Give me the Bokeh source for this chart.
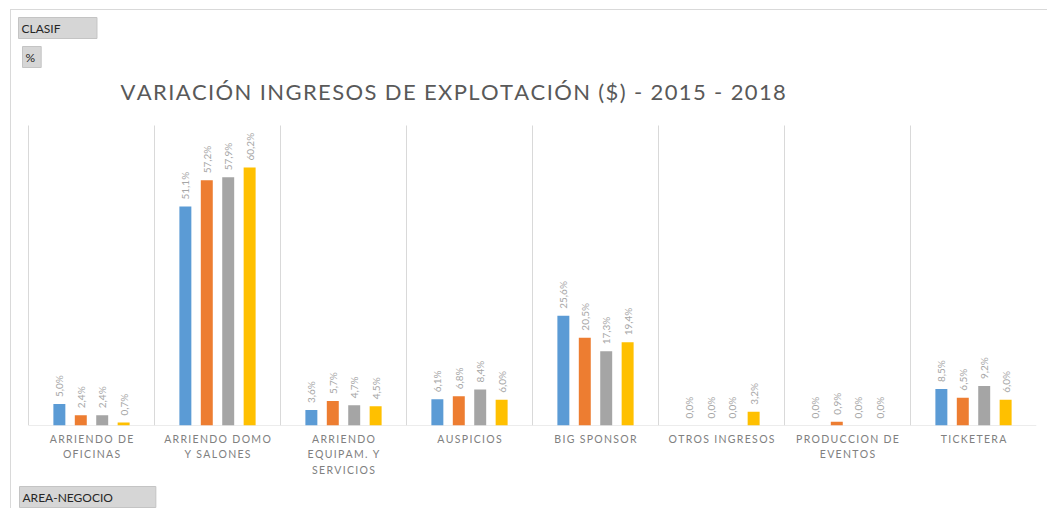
import math
from bokeh.plotting import figure
from bokeh.models import Label, Title, FixedTicker, ColumnDataSource, Range1d
from bokeh.core.properties import value
from bokeh.embed import file_html
from bokeh.resources import INLINE

# ---------------- data ----------------
categories = ["ARRIENDO DE\nOFICINAS", "ARRIENDO DOMO\nY SALONES", "ARRIENDO\nEQUIPAM. Y\nSERVICIOS",
              "AUSPICIOS", "BIG SPONSOR", "OTROS INGRESOS", "PRODUCCION DE\nEVENTOS", "TICKETERA"]
years = ["2015", "2016", "2017", "2018"]
v2015 = [5.0, 51.1, 3.6, 6.1, 25.6, 0.0, 0.0, 8.5]
v2016 = [2.4, 57.2, 5.7, 6.8, 20.5, 0.0, 0.9, 6.5]
v2017 = [2.4, 57.9, 4.7, 8.4, 17.3, 0.0, 0.0, 9.2]
v2018 = [0.7, 60.2, 4.5, 6.0, 19.4, 3.2, 0.0, 6.0]
series = [v2015, v2016, v2017, v2018]
colors = ["#5B9BD5", "#ED7D31", "#A5A5A5", "#FFC000"]
offsets = [-0.255, -0.085, 0.085, 0.255]
title_text = "VARIACIÓN INGRESOS DE EXPLOTACIÓN ($) - 2015 - 2018"
y_max = 70.0

FONT = "Lato"
n = len(categories)

# layout helpers (pixels)
CAT_PX = 126          # width of one category
LEFT_PAD = 17         # frame starts this far left of the first category
PLOT_H = 300          # height of the value area (0..y_max)
FRAME_H = 415         # frame height (includes the title band above)


def spaced(s, gap="\u200a"):
    lines = []
    for line in s.split("\n"):
        words = [gap.join(list(w)) for w in line.split(" ")]
        lines.append((gap + " " + gap).join(words))
    return "\n".join(lines)


p = figure(width=1037, height=503,
           x_range=Range1d(-0.5 - LEFT_PAD / CAT_PX, n - 0.5),
           y_range=Range1d(0, y_max * FRAME_H / PLOT_H),
           output_backend="svg", toolbar_location=None, y_axis_location=None,
           title_location=None,
           min_border_left=0, min_border_right=12, min_border_top=0, min_border_bottom=60)
p.styles = {"margin-left": "10px", "margin-top": "9px",
            "border-top": "1px solid #d9d9d9", "border-left": "1px solid #d9d9d9"}
p.outline_line_color = None
p.background_fill_color = "white"
p.border_fill_color = "white"
p.xgrid.visible = False
p.ygrid.visible = False

# category separators and baseline
bounds = [i - 0.5 for i in range(n)]
p.segment(x0=bounds, y0=[0] * n, x1=bounds, y1=[y_max] * n, line_color="#d9d9d9", line_width=1)
p.segment(x0=[-0.5], y0=[0], x1=[n - 0.5], y1=[0], line_color="#d9d9d9", line_width=1)

ax = p.xaxis[0]
ax.ticker = FixedTicker(ticks=list(range(n)))
ax.major_label_overrides = {i: spaced(c, "\u200a\u200a") for i, c in enumerate(categories)}
ax.axis_line_color = None
ax.major_tick_line_color = None
ax.minor_tick_line_color = None
ax.major_label_standoff = 1
ax.major_label_text_font = FONT
ax.major_label_text_font_size = "10.5px"
ax.major_label_text_color = "#808080"
ax.major_label_text_line_height = 1.3

for j, vals in enumerate(series):
    xs = [i + offsets[j] for i in range(len(vals))]
    src = ColumnDataSource(dict(x=xs, top=vals,
                                lbl=[f"{v:.1f}%".replace(".", ",") for v in vals]))
    p.vbar(x="x", top="top", width=0.095, source=src, fill_color=colors[j], line_color=None)
    p.text(x="x", y="top", text="lbl", source=src, angle=math.pi / 2, text_align="left",
           text_baseline="middle", y_offset=-7, text_font=value(FONT), text_font_size="10px",
           text_color="#a6a6a6")

# title (screen units relative to the frame)
p.add_layout(Label(x=109, y=334, x_units="screen", y_units="screen",
                   text=spaced(title_text, "\u200a"), text_font=FONT, text_font_size="22px",
                   text_color="#595959", text_baseline="middle", text_align="left"))


def box(x, y, txt):
    p.add_layout(Label(x=x, y=y, x_units="screen", y_units="screen", text=txt,
                       text_font=FONT, text_font_size="12px", text_color="#262626",
                       text_baseline="top", text_align="left", padding=3,
                       background_fill_color="#d6d6d6", border_line_color="#c4c4c4"))


box(7, 408, "CLASIF" + "\u00a0" * 11)
box(11, 379, "%\u00a0")

p.add_layout(Title(text="AREA-NEGOCIO" + "\u00a0" * 13, align="left", offset=8, standoff=12,
                   text_font=FONT, text_font_size="12px", text_font_style="normal",
                   text_color="#262626", padding=3,
                   background_fill_color="#d6d6d6", border_line_color="#c4c4c4"), "below")

open("out.html", "w").write(file_html(p, INLINE))
